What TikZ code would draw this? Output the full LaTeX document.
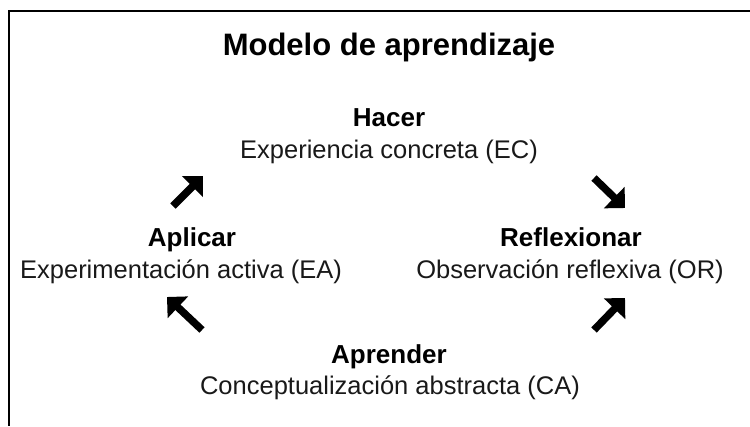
\documentclass[tikz,border=0pt]{standalone}
\usepackage{fontspec}
\setmainfont{Liberation Sans}
\usetikzlibrary{arrows.meta}
\begin{document}
\begin{tikzpicture}[x=1pt,y=-1pt,
  lbl/.style={anchor=base,inner sep=0pt,text=black!90,font=\fontsize{25.5}{30}\selectfont},
  hd/.style={anchor=base,inner sep=0pt,font=\fontsize{26}{30}\selectfont\bfseries},
  ttlstyle/.style={anchor=base,inner sep=0pt,font=\fontsize{31}{36}\selectfont\bfseries},
  bigarrow/.style={line width=7.5pt,-{Triangle[length=15pt,width=29pt]}},
  frameline/.style={line width=1.5pt}]
\useasboundingbox (0,0) rectangle (750,426);
% frame
\coordinate (fr) at (750,11);
\coordinate (fc) at (9,11);
\coordinate (fb) at (9,426);
\draw[frameline] (fr) -- (fc) -- (fb);
% title
\node[ttlstyle] (title) at (389,55) {Modelo de aprendizaje};
% texts
\node[hd] (hacer) at (389,126) {Hacer};
\node[lbl] (ec) at (389,158) {Experiencia concreta (EC)};
\node[hd] (aplicar) at (192,246) {Aplicar};
\node[lbl] (ea) at (181,278) {Experimentación activa (EA)};
\node[hd] (reflex) at (571,246) {Reflexionar};
\node[lbl] (or) at (570,278) {Observación reflexiva (OR)};
\node[hd] (aprender) at (389,363) {Aprender};
\node[lbl] (ca) at (390,394) {Conceptualización abstracta (CA)};
% arrows
\coordinate (a1s) at (173,206); \coordinate (a1e) at (203,176);
\coordinate (a2s) at (594,178); \coordinate (a2e) at (625,208);
\coordinate (a3s) at (202,330); \coordinate (a3e) at (167,297);
\coordinate (a4s) at (594,330); \coordinate (a4e) at (625,298);
\draw[bigarrow] (a1s) -- (a1e);
\draw[bigarrow] (a2s) -- (a2e);
\draw[bigarrow] (a3s) -- (a3e);
\draw[bigarrow] (a4s) -- (a4e);
\end{tikzpicture}
\end{document}
